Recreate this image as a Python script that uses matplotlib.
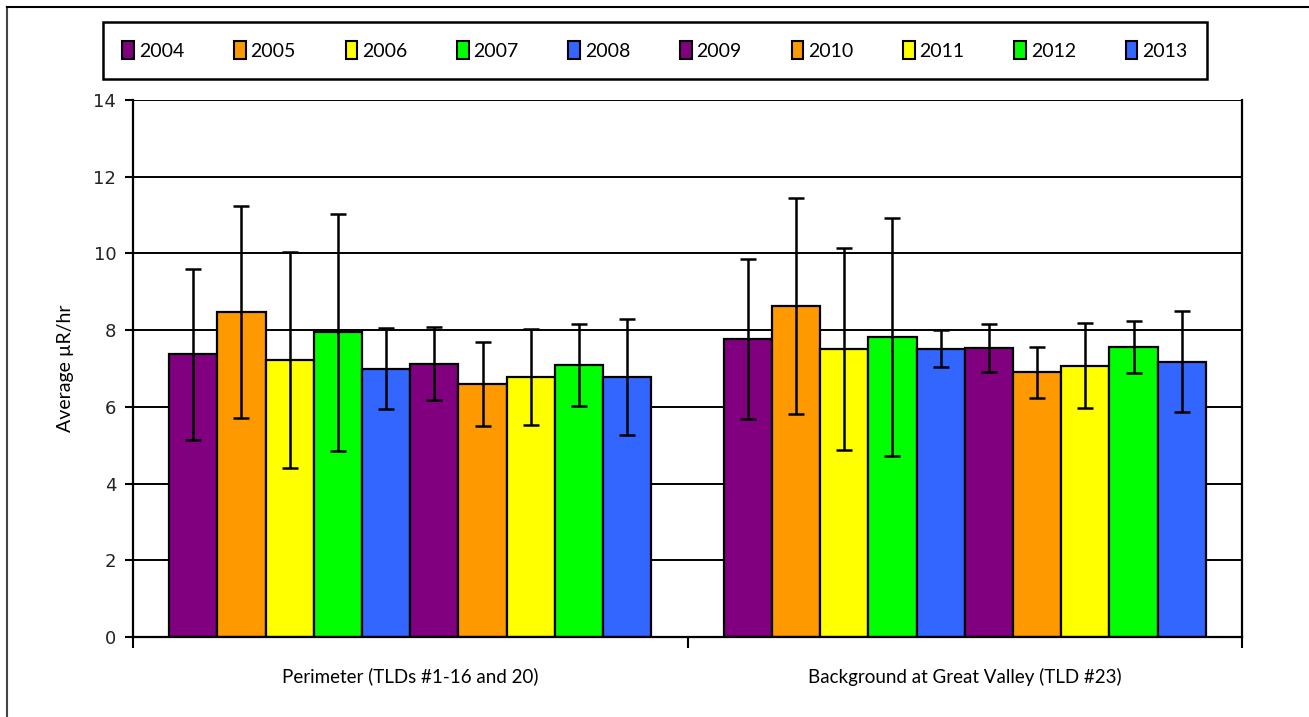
import numpy as np
import matplotlib
matplotlib.use('Agg')
from matplotlib import pyplot as plt
from matplotlib.lines import Line2D

sites = ['Perimeter (TLDs #1-16 and 20)', 'Background at Great Valley (TLD #23)']
years = ['2004', '2005', '2006', '2007', '2008', '2009', '2010', '2011', '2012', '2013']
colors = ['#800080', '#FF9900', '#FFFF00', '#00FF00', '#3366FF',
          '#800080', '#FF9900', '#FFFF00', '#00FF00', '#3366FF']

# mean dose rate per year, one list per site
perimeter = [7.37, 8.47, 7.22, 7.94, 7.00, 7.13, 6.60, 6.78, 7.09, 6.78]
background = [7.77, 8.63, 7.51, 7.82, 7.52, 7.53, 6.90, 7.07, 7.57, 7.18]
# standard deviations (error bar half-lengths)
perimeter_err = [2.23, 2.76, 2.81, 3.10, 1.05, 0.96, 1.09, 1.25, 1.07, 1.51]
background_err = [2.08, 2.81, 2.63, 3.10, 0.49, 0.62, 0.67, 1.11, 0.68, 1.31]

means = np.array([perimeter, background])
errs = np.array([perimeter_err, background_err])

fig = plt.figure(figsize=(13.09, 7.17), dpi=100)
ax = fig.add_axes([133 / 1309, 1 - 637 / 717, (1242 - 133) / 1309, (637 - 100) / 717])

n = len(years)
bar_w = 0.087
centers = np.arange(len(sites)) + 0.5
for i in range(n):
    x = centers + (i - (n - 1) / 2) * bar_w
    ax.bar(x, means[:, i], width=bar_w, color=colors[i], edgecolor='black',
           linewidth=1.6, zorder=2)
    ax.errorbar(x, means[:, i], yerr=errs[:, i], fmt='none', ecolor='black',
                elinewidth=1.8, capsize=6, capthick=1.8, zorder=3)

ax.set_xlim(0, 2)
ax.set_ylim(0, 14)
ax.set_yticks(np.arange(0, 15, 2))
ax.yaxis.grid(True, color='black', linewidth=1.4, zorder=0)
ax.set_axisbelow(True)
ax.tick_params(axis='y', direction='out', length=6, width=1.5, labelsize=13,
               labelcolor='#222222', pad=6)
ax.set_xticks([0, 1, 2])
ax.set_xticklabels(['', '', ''])
ax.tick_params(axis='x', which='major', direction='out', length=8, width=1.5)
ax.set_xticks(centers, minor=True)
ax.set_xticklabels(sites, minor=True, fontsize=13.5, family='Lato')
ax.tick_params(axis='x', which='minor', length=0, pad=22)
for s in ax.spines.values():
    s.set_linewidth(1.6)
ax.spines['top'].set_visible(False)

ax.set_ylabel('Average \u00b5R/hr', fontsize=14, family='Lato', labelpad=14)

handles = [plt.Rectangle((0, 0), 1, 1, facecolor=c, edgecolor='black', linewidth=1.5)
           for c in colors]
leg = fig.legend(handles, years, ncol=10, loc='upper left',
                 bbox_to_anchor=(103 / 1309, 1 - 22 / 717, (1207 - 103) / 1309, 0.0),
                 mode='expand', fancybox=False, edgecolor='black', framealpha=1,
                 prop={'family': 'Lato', 'size': 14}, handlelength=0.6,
                 handleheight=1.0, handletextpad=0.25, borderpad=1.0,
                 borderaxespad=0.0, columnspacing=1.0)
leg.get_frame().set_linewidth(1.8)

# outer border (left and top only)
fig.add_artist(Line2D([7 / 1309, 7 / 1309], [0, 1 - 7 / 717], color='#444444',
                      linewidth=1.5, transform=fig.transFigure))
fig.add_artist(Line2D([7 / 1309, 1], [1 - 7 / 717, 1 - 7 / 717], color='black',
                      linewidth=1.5, transform=fig.transFigure))

fig.savefig('out.png', dpi=100)
